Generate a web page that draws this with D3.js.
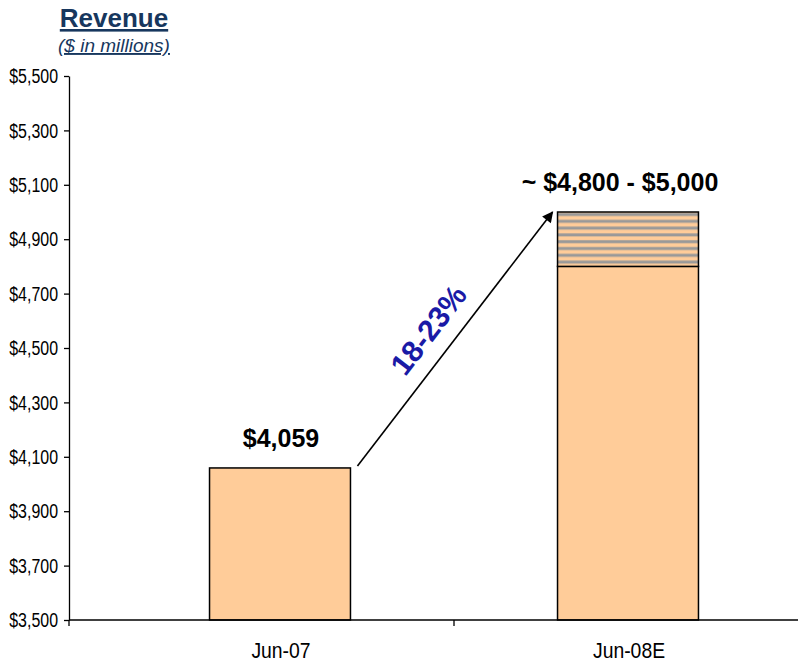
<!DOCTYPE html>
<html>
<head>
<meta charset="utf-8">
<script src="https://cdn.jsdelivr.net/npm/d3@7"></script>
<style>
  body { margin: 0; background: #fff; }
  text { font-family: Arial, "Liberation Sans", sans-serif; }
</style>
</head>
<body>
<div id="plot"></div>
<script>
// data
const categories = ["Jun-07", "Jun-08E"];
const baseValues = [4059, 4800];
const rangeTop = [null, 5000];
const barLabels = ["$4,059", "~ $4,800 - $5,000"];
const yTicks = [3500, 3700, 3900, 4100, 4300, 4500, 4700, 4900, 5100, 5300, 5500];
const growthLabel = "18-23%";

const W = 798, H = 665;
const margin = {top: 76, left: 69, bottom: 45};

const svg = d3.select("#plot")
    .append("svg")
    .attr("width", W)
    .attr("height", H);

const defs = svg.append("defs");
const pat = defs.append("pattern")
    .attr("id", "stripes")
    .attr("patternUnits", "userSpaceOnUse")
    .attr("width", 8)
    .attr("height", 6.8);
pat.append("rect").attr("width", 8).attr("height", 6.8).attr("fill", "#FFCC99");
pat.append("rect").attr("y", 2.2).attr("width", 8).attr("height", 3).attr("fill", "#999999");

const arrowHead = defs.append("marker")
    .attr("id", "arrow")
    .attr("viewBox", "0 0 10 10")
    .attr("refX", 9)
    .attr("refY", 5)
    .attr("markerWidth", 13)
    .attr("markerHeight", 11)
    .attr("markerUnits", "userSpaceOnUse")
    .attr("orient", "auto");
arrowHead.append("path").attr("d", "M0,0 L10,5 L0,10 Z").attr("fill", "#000");

// scales
const y = d3.scaleLinear()
    .domain([3500, 5500])
    .range([H - margin.bottom, margin.top]);

const x = d3.scaleBand()
    .domain(categories)
    .range([106, 802])
    .paddingInner(0.595)
    .paddingOuter(0.2975);

// title
svg.append("text")
    .attr("x", 114).attr("y", 27)
    .attr("text-anchor", "middle")
    .style("font-size", "26px").style("font-weight", "bold")
    .style("text-decoration", "underline")
    .attr("fill", "#17375E")
    .text("Revenue");
svg.append("text")
    .attr("x", 114).attr("y", 52)
    .attr("text-anchor", "middle")
    .style("font-size", "19px").style("font-style", "italic")
    .style("text-decoration", "underline")
    .attr("fill", "#17375E")
    .text("($ in millions)");

// y axis
const leftAxis = d3.axisLeft(y)
    .tickValues(yTicks)
    .tickSize(5)
    .tickSizeOuter(0)
    .tickPadding(6)
    .tickFormat(d => "$" + d3.format(",")(d));

svg.append("g")
    .attr("transform", "translate(" + margin.left + ",0)")
    .call(leftAxis)
    .call(g => g.selectAll("text")
        .style("font-size", "21px")
        .style("font-family", "Arial, 'Liberation Sans', sans-serif")
        .attr("fill", "#000")
        .attr("x", -11 / 0.76)
        .attr("transform", "scale(0.76,1)"))
    .call(g => g.selectAll("line, path").attr("stroke", "#000").attr("stroke-width", 1.3));

// bars
const base = svg.append("g");
base.selectAll("rect")
    .data(categories)
    .enter()
    .append("rect")
    .attr("x", d => x(d))
    .attr("width", x.bandwidth())
    .attr("y", (d, i) => y(baseValues[i]))
    .attr("height", (d, i) => y(3500) - y(baseValues[i]))
    .attr("fill", "#FFCC99")
    .attr("stroke", "#000")
    .attr("stroke-width", 1.5);

base.selectAll("rect.range")
    .data(categories.filter((d, i) => rangeTop[i] != null))
    .enter()
    .append("rect")
    .attr("class", "range")
    .attr("x", d => x(d))
    .attr("width", x.bandwidth())
    .attr("y", d => y(rangeTop[categories.indexOf(d)]))
    .attr("height", d => y(baseValues[categories.indexOf(d)]) - y(rangeTop[categories.indexOf(d)]))
    .attr("fill", "url(#stripes)")
    .attr("stroke", "#000")
    .attr("stroke-width", 1.5);

// bar labels
svg.selectAll("text.barlabel")
    .data(categories)
    .enter()
    .append("text")
    .attr("class", "barlabel")
    .attr("x", (d, i) => x(d) + x.bandwidth() / 2 + (rangeTop[i] != null ? -8 : 1))
    .attr("y", (d, i) => y(rangeTop[i] != null ? rangeTop[i] : baseValues[i]) - 21)
    .attr("text-anchor", "middle")
    .style("font-size", "25px").style("font-weight", "bold")
    .text((d, i) => barLabels[i]);

// bottom axis
const y0 = y(3500);
svg.append("line")
    .attr("x1", margin.left).attr("x2", W)
    .attr("y1", y0).attr("y2", y0)
    .attr("stroke", "#000").attr("stroke-width", 1.5);
const boundaries = [margin.left, x(categories[1]) - x.step() * x.paddingInner() / 2];
svg.selectAll("line.xtick")
    .data(boundaries)
    .enter()
    .append("line")
    .attr("class", "xtick")
    .attr("x1", d => d).attr("x2", d => d)
    .attr("y1", y0).attr("y2", y0 + 6)
    .attr("stroke", "#000").attr("stroke-width", 1.3);
svg.selectAll("text.xlabel")
    .data(categories)
    .enter()
    .append("text")
    .attr("class", "xlabel")
    .attr("transform", d => "translate(" + (x(d) + x.bandwidth() / 2 + 1) + "," + (y0 + 38) + ") scale(0.88,1)")
    .attr("text-anchor", "middle")
    .style("font-size", "22px")
    .text(d => d);

// growth arrow
const x1 = x(categories[0]) + x.bandwidth() + 7;
const yA = y(baseValues[0]) - 2;
const x2 = x(categories[1]) - 5;
const yB = y(rangeTop[1]);
svg.append("line")
    .attr("x1", x1).attr("y1", yA)
    .attr("x2", x2).attr("y2", yB)
    .attr("stroke", "#000").attr("stroke-width", 1.6)
    .attr("marker-end", "url(#arrow)");

const ang = Math.atan2(yB - yA, x2 - x1) * 180 / Math.PI;
svg.append("text")
    .attr("transform", "translate(" + (x1 + x2) / 2 + "," + (yA + yB) / 2 + ") rotate(" + ang + ") translate(-9,-16)")
    .attr("text-anchor", "middle")
    .style("font-size", "30px").style("font-weight", "bold")
    .attr("fill", "#1A1AA6")
    .text(growthLabel);
</script>
</body>
</html>
